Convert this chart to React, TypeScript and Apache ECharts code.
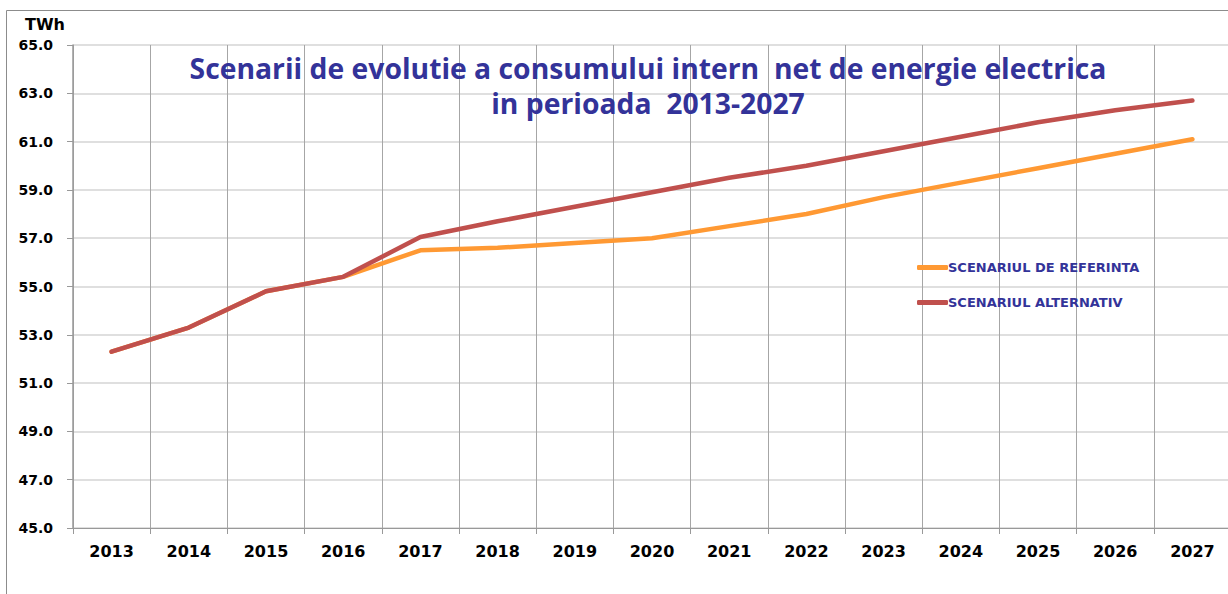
import React, { useEffect, useRef } from "react";
import * as echarts from "echarts";

const years = ["2013", "2014", "2015", "2016", "2017", "2018", "2019", "2020", "2021", "2022", "2023", "2024", "2025", "2026", "2027"];
const referinta = [52.3, 53.3, 54.8, 55.4, 56.5, 56.6, 56.8, 57.0, 57.5, 58.0, 58.7, 59.3, 59.9, 60.5, 61.1];
const alternativ = [52.3, 53.3, 54.8, 55.4, 57.05, 57.7, 58.3, 58.9, 59.5, 60.0, 60.6, 61.2, 61.8, 62.3, 62.7];
const seriesNames = ["SCENARIUL DE REFERINTA", "SCENARIUL ALTERNATIV"];
const titleLines = ["Scenarii de evolutie a consumului intern  net de energie electrica", "in perioada  2013-2027"];

export default function App() {
  const ref = useRef<HTMLDivElement>(null);
  useEffect(() => {
    const chart = echarts.init(ref.current!, null, { renderer: "svg" });
    const labelFont = "'DejaVu Sans', Verdana, sans-serif";
    chart.setOption({
      animation: false,
      backgroundColor: "#ffffff",
      title: {
        text: titleLines.join("\n"),
        left: 648,
        top: 50,
        padding: 0,
        textAlign: "center",
        textStyle: {
          fontFamily: "'Open Sans', sans-serif",
          fontWeight: "bold",
          fontSize: 28.3,
          color: "#333399",
          lineHeight: 35,
        },
      },
      graphic: [
        {
          type: "rect",
          shape: { x: 6.5, y: 10.5, width: 1240, height: 600 },
          style: { fill: "none", stroke: "#8c8c8c", lineWidth: 1 },
          silent: true,
        },
        {
          type: "text",
          x: 25,
          y: 16,
          style: { text: "TWh", font: `bold 16px ${labelFont}`, fill: "#000" },
        },
      ],
      legend: {
        orient: "vertical",
        left: 917,
        top: 261,
        padding: 0,
        itemGap: 22,
        itemWidth: 31,
        itemHeight: 5,
        icon: "roundRect",
        textStyle: { fontFamily: labelFont, fontWeight: "bold", fontSize: 13, color: "#333399", padding: [0, 0, 0, -5] },
        data: seriesNames,
      },
      grid: { left: 73, top: 45, right: 1, bottom: 66, containLabel: false },
      xAxis: {
        type: "category",
        data: years,
        boundaryGap: true,
        axisLine: { show: true, lineStyle: { color: "#999999", width: 1 } },
        axisTick: { show: true, length: 6, lineStyle: { color: "#999999" } },
        axisLabel: { fontFamily: labelFont, fontWeight: "bold", fontSize: 16, color: "#000", margin: 15 },
        splitLine: { show: true, lineStyle: { color: "#a6a6a6", width: 1 } },
      },
      yAxis: {
        type: "value",
        min: 45,
        max: 65,
        interval: 2,
        axisLine: { show: true, lineStyle: { color: "#999999", width: 1.5 } },
        axisTick: { show: true, length: 6, lineStyle: { color: "#999999" } },
        axisLabel: {
          fontFamily: labelFont,
          fontWeight: "bold",
          fontSize: 14,
          color: "#000",
          margin: 20,
          formatter: (v: number) => v.toFixed(1),
        },
        splitLine: { show: true, lineStyle: { color: "#d4d4d4", width: 1.5 } },
      },
      series: [
        {
          name: seriesNames[0],
          type: "line",
          data: referinta,
          symbol: "none",
          lineStyle: { color: "#FF9933", width: 4.5, cap: "round" },
          itemStyle: { color: "#FF9933" },
          z: 2,
        },
        {
          name: seriesNames[1],
          type: "line",
          data: alternativ,
          symbol: "none",
          lineStyle: { color: "#C0504D", width: 4.5, cap: "round" },
          itemStyle: { color: "#C0504D" },
          z: 3,
        },
      ],
    });
    return () => chart.dispose();
  }, []);
  return <div ref={ref} style={{ position: "fixed", left: 0, top: 0, width: 1232, height: 594 }} />;
}
